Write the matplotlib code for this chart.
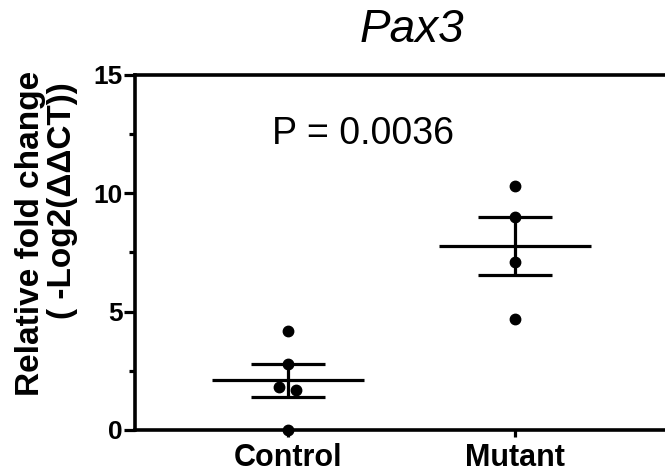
import numpy as np
import matplotlib
matplotlib.use("Agg")
import matplotlib.pyplot as plt

plt.rcParams['font.family'] = ['Liberation Sans', 'DejaVu Sans']

# data
groups = ['Control', 'Mutant']
control = [4.2, 2.8, 1.8, 1.7, 0.0]
mutant = [10.3, 9.0, 7.1, 4.7]
# small horizontal offsets where points overlap
control_dx = [0.0, 0.0, -0.04, 0.035, 0.0]
mutant_dx = [0.0, 0.0, 0.0, 0.0]
p_text = 'P = 0.0036'

W, H = 665, 473
fig = plt.figure(figsize=(W / 100, H / 100), dpi=100)
ax = fig.add_axes([0.203, 0.091, 0.8015, 0.7505])

for i, (vals, dx) in enumerate([(control, control_dx), (mutant, mutant_dx)]):
    v = np.array(vals)
    m = v.mean()
    sem = v.std(ddof=1) / np.sqrt(len(v))
    ax.plot(i + np.array(dx), v, 'o', color='black', ms=7.5, zorder=3, clip_on=False)
    ax.hlines(m, i - 0.335, i + 0.335, color='black', lw=2.3)
    ax.hlines([m - sem, m + sem], i - 0.165, i + 0.165, color='black', lw=2.3)
    ax.vlines(i, m - sem, m + sem, color='black', lw=2.3)

ax.set_xlim(-0.674, 1.674)
ax.set_ylim(0, 15)
ax.set_xticks([0, 1])
ax.set_xticklabels(groups, fontsize=22, fontweight='bold')
ax.set_yticks([0, 5, 10, 15])
ax.set_yticks([2.5, 7.5, 12.5], minor=True)
ax.tick_params(axis='y', labelsize=19, width=2.3, length=8, pad=1)
ax.tick_params(axis='y', which='minor', width=2.3, length=4)
ax.tick_params(axis='x', width=2.3, length=5, pad=4.5)
for lab in ax.get_yticklabels():
    lab.set_fontweight('bold')
for s in ax.spines.values():
    s.set_linewidth(2.6)

# y label, two lines placed separately
fig.text(31 / W, 1 - 233 / H, 'Relative fold change', rotation=90, fontsize=24,
         fontweight='bold', ha='center', va='center')
fig.text(62 / W, 1 - 201 / H, '( -Log2(\u0394\u0394CT))', rotation=90, fontsize=24,
         fontweight='bold', ha='center', va='center')

fig.text(363 / W, 1 - 144 / H, p_text, fontsize=27, ha='center', va='baseline')
fig.text(412 / W, 1 - 42 / H, 'Pax3', fontsize=33, style='italic',
         ha='center', va='baseline')

fig.savefig('out.png', dpi=100)
